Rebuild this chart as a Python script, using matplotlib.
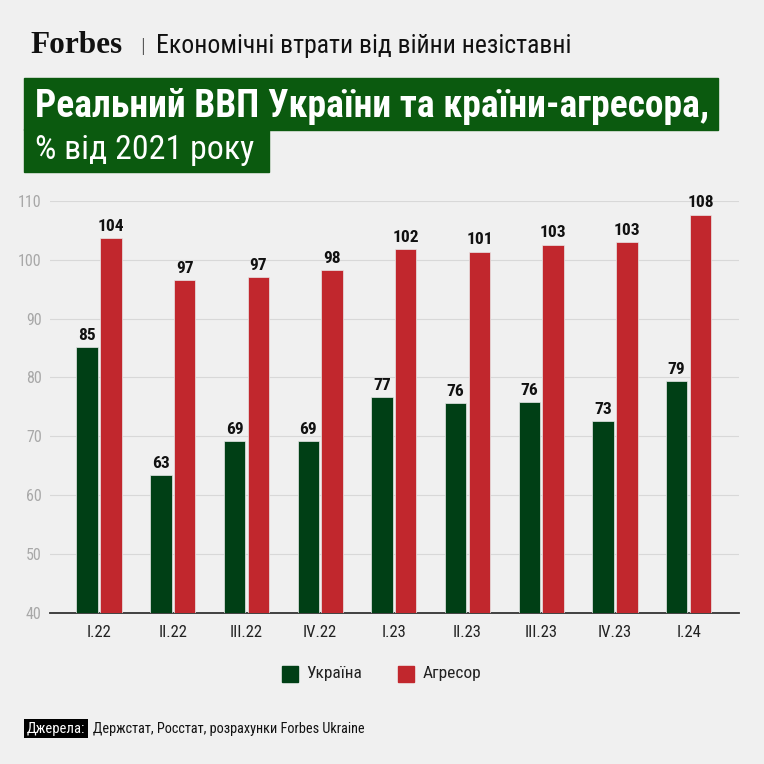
import matplotlib
matplotlib.use('Agg')
import matplotlib.pyplot as plt
import numpy as np

quarters = ['I.22', 'II.22', 'III.22', 'IV.22', 'I.23', 'II.23', 'III.23', 'IV.23', 'I.24']
ukraine = [85.1, 63.4, 69.2, 69.2, 76.6, 75.6, 75.8, 72.6, 79.4]
aggressor = [103.7, 96.6, 97.1, 98.2, 101.8, 101.4, 102.6, 103.0, 107.7]
series_names = ['Україна', 'Агресор']
yticks = [40, 50, 60, 70, 80, 90, 100, 110]

BG = '#f0f0f0'
GREEN = '#003f15'
RED = '#c1272d'
BOX = '#0b5a0f'

plt.rcParams['font.family'] = ['Roboto Condensed', 'Roboto', 'DejaVu Sans']

fig = plt.figure(figsize=(7.64, 7.64), dpi=100, facecolor=BG)
ax = fig.add_axes([50/764, 1-612.7/764, (738.7-50)/764, (612.7-201)/764])
ax.set_facecolor(BG)

x = np.arange(len(quarters))
w = 0.29
off = 0.162
b1 = ax.bar(x - off, ukraine, w, color=GREEN, edgecolor='#e8e8e8', linewidth=0.5, zorder=3)
b2 = ax.bar(x + off, aggressor, w, color=RED, edgecolor='#e8e8e8', linewidth=0.5, zorder=3)
for rects, vals in ((b1, ukraine), (b2, aggressor)):
    for r, v in zip(rects, vals):
        ax.annotate('%.0f' % v, (r.get_x() + r.get_width()/2, v), xytext=(0, 3),
                    textcoords='offset points', ha='center', va='bottom',
                    fontsize=12.5, fontweight='bold', color='#111111', annotation_clip=False)

ax.set_ylim(40, 110)
ax.set_xlim(-0.666, 8.68)
ax.set_yticks(yticks)
ax.set_xticks(x)
ax.set_xticklabels(quarters)
ax.grid(axis='y', color='#d8d8d8', linewidth=0.8, zorder=0)
for s in ('top', 'right', 'left'):
    ax.spines[s].set_visible(False)
ax.spines['bottom'].set_color('#333333')
ax.spines['bottom'].set_linewidth(1.3)
ax.tick_params(axis='y', length=0, pad=6, labelsize=11.5, labelcolor='#a8a8a8')
ax.tick_params(axis='x', length=0, pad=8.5, labelsize=12, labelcolor='#222222')

# шапка
fig.text(30/764, 1-53/764, 'Forbes', family='Liberation Serif', fontweight='bold',
         fontsize=22.5, color='#111111', va='baseline')
fig.text(140/764, 1-53/764, '|', fontsize=15, fontweight='light', color='#444444', va='baseline')
fig.text(156/764, 1-53/764, 'Економічні втрати від війни незіставні', fontsize=18.5,
         color='#111111', va='baseline')

# заголовок на зеленому
fig.patches.append(plt.Rectangle((24.4/764, 1-130/764), (717.8-24.4)/764, (130-78.3)/764,
                                 transform=fig.transFigure, color=BOX, zorder=0))
fig.patches.append(plt.Rectangle((24.4/764, 1-171.7/764), (269-24.4)/764, (171.7-129)/764,
                                 transform=fig.transFigure, color=BOX, zorder=0))
fig.text(35/764, 1-116.7/764, 'Реальний ВВП України та країни-агресора,', fontsize=27,
         fontweight='bold', color='white', va='baseline')
fig.text(35/764, 1-159/764, '% від 2021 року', fontsize=24.4, color='white', va='baseline')

# легенда
for xs, xt, c, lab in ((281.7, 306, GREEN, series_names[0]), (397.7, 423, RED, series_names[1])):
    fig.patches.append(plt.Rectangle((xs/764, 1-681.7/764), 16/764, 16/764,
                                     transform=fig.transFigure, color=c))
    fig.text(xt/764, 1-673.5/764, lab, fontsize=12.5, color='#222222', va='center')

# джерела
fig.text(27/764, 1-728.5/764, 'Джерела:', fontsize=10.5, color='white', va='center',
         bbox=dict(boxstyle='square,pad=0.2', fc='black', ec='none'))
fig.text(92.6/764, 1-728.5/764, 'Держстат, Росстат, розрахунки Forbes Ukraine', fontsize=10.3,
         color='#111111', va='center')

fig.savefig('out.png', dpi=100, facecolor=BG)
